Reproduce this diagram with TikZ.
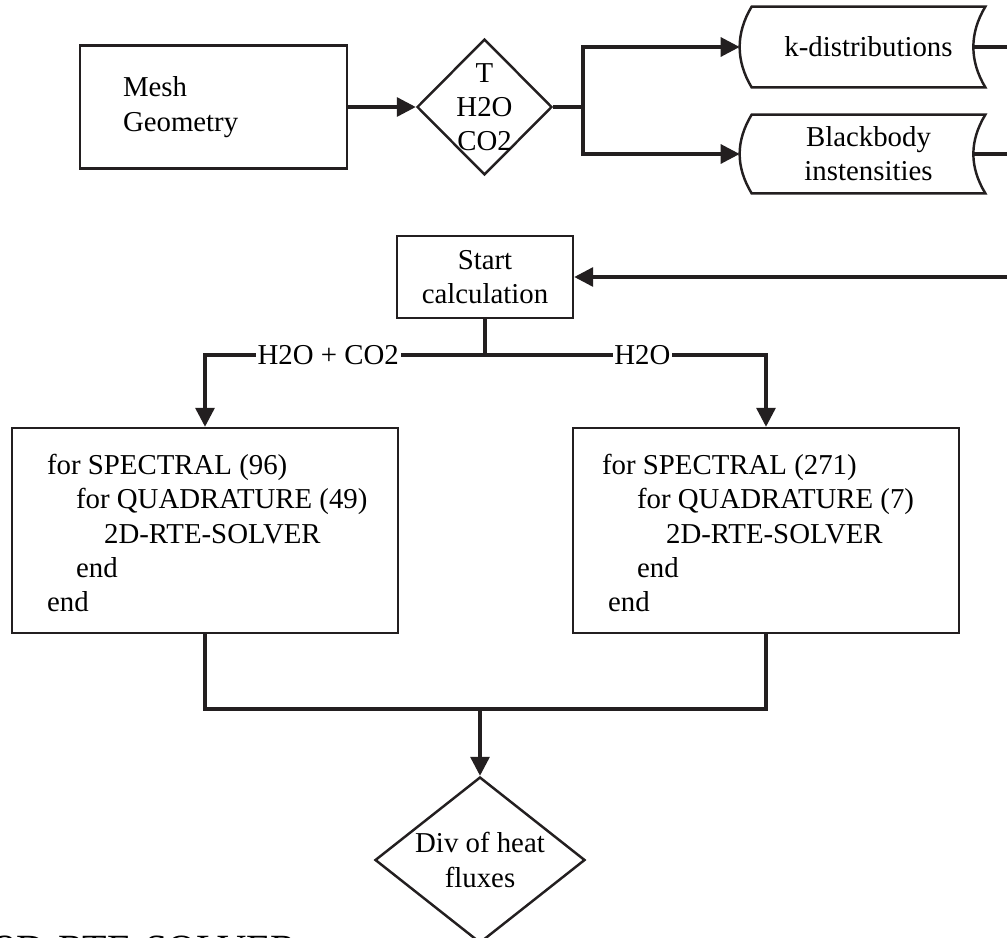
\documentclass[tikz,border=0pt]{standalone}
\usepackage{fontspec}
\setmainfont{Liberation Serif}
\usetikzlibrary{arrows.meta,calc,shapes.geometric}
\definecolor{ink}{HTML}{231F20}
\newcommand{\storedshape}[1]{%
  \draw[boxline] (#1.north west) -- (#1.north east)
    .. controls ($(#1.north east)+(-0.32,-0.53)$) and ($(#1.south east)+(-0.32,0.53)$) .. (#1.south east)
    -- (#1.south west)
    .. controls ($(#1.south west)+(-0.32,0.53)$) and ($(#1.north west)+(-0.32,-0.53)$) .. (#1.north west) -- cycle;}

\begin{document}
\begin{tikzpicture}[
  font=\fontsize{16.4}{19.5}\selectfont,
  boxline/.style={draw=ink, line width=1.4pt},
  box/.style={boxline, rectangle, align=center},
  loop/.style={boxline, rectangle, minimum width=7.72cm, minimum height=4.1cm},
  code/.style={anchor=west, align=left, inner sep=0pt},
  dia/.style={boxline, diamond, inner sep=0pt},
  store/.style={rectangle, align=center, minimum width=4.66cm},
  wire/.style={draw=ink, line width=1.9pt},
  arr/.style={wire, -{Triangle[length=0.38cm, width=0.38cm]}},
  lbl/.style={fill=white, inner xsep=1pt, inner ysep=0pt}
]
  \useasboundingbox (0,0) rectangle (20.14,-18.76);

  \node[box, minimum width=5.34cm, minimum height=2.46cm, text width=3.62cm, inner xsep=0.86cm, align=left] (mesh) at (4.27,-2.14) {Mesh\\Geometry};
  \node[dia, minimum width=2.7cm, minimum height=2.72cm] (gas) at (9.69,-2.14) {};
  \node[align=center] (gastxt) at (gas) {T\\H2O\\CO2};
  \node[store, minimum height=1.6cm] (kdist) at (17.37,-0.94) {k-distributions};
  \node[store, minimum height=1.56cm] (bbody) at (17.37,-3.08) {Blackbody\\instensities};
  \storedshape{kdist}
  \storedshape{bbody}
  \node[box, minimum width=3.52cm, minimum height=1.64cm] (start) at (9.7,-5.54) {Start\\calculation};
  \node[loop] (loopA) at (4.1,-10.61) {};
  \node[code] (loopAtxt) at ($(loopA.west)+(0.72,-0.05)$)
    {for SPECTRAL (96)\\\hspace*{0.58cm}for QUADRATURE (49)\\\hspace*{1.14cm}2D-RTE-SOLVER\\\hspace*{0.58cm}end\\end};
  \node[loop] (loopB) at (15.32,-10.61) {};
  \node[code] (loopBtxt) at ($(loopB.west)+(0.6,-0.05)$)
    {for SPECTRAL (271)\\\hspace*{0.7cm}for QUADRATURE (7)\\\hspace*{1.28cm}2D-RTE-SOLVER\\\hspace*{0.7cm}end\\\hspace*{0.12cm}end};
  \node[dia, minimum width=4.2cm, minimum height=3.32cm] (div) at (9.6,-17.2) {};
  \node[align=center] (divtxt) at (div) {Div of heat\\fluxes};
  \node[anchor=base west, inner sep=0pt, font=\fontsize{22.8}{27}\selectfont] (caption) at (-0.08,-19.24) {2D-RTE-SOLVER};

  \coordinate (split) at (11.66,-2.14);
  \coordinate (kdistin) at ($(kdist.west)+(-0.24,0)$);
  \coordinate (kdistout) at ($(kdist.east)+(-0.24,0)$);
  \coordinate (bbodyin) at ($(bbody.west)+(-0.24,0)$);
  \coordinate (bbodyout) at ($(bbody.east)+(-0.24,0)$);
  \coordinate (ret) at (20.4,-5.54);
  \coordinate (fork) at (9.7,-7.1);
  \coordinate (merge) at (9.6,-14.18);

  \draw[arr] (mesh.east) -- (gas.west);
  \draw[wire] (gas.east) -- (split);
  \draw[arr] (split) |- (kdistin);
  \draw[arr] (split) |- (bbodyin);
  \draw[wire] (kdistout) -| (ret);
  \draw[wire] (bbodyout) -- (bbodyout -| ret);
  \draw[arr] (ret) -- (start);
  \draw[wire] (start) -- (fork);
  \draw[arr] (fork) -| node[lbl, pos=0.28] {H2O + CO2} (loopA);
  \draw[arr] (fork) -| node[lbl, pos=0.28] {H2O} (loopB);
  \draw[wire] (loopA) |- (merge);
  \draw[wire] (loopB) |- (merge);
  \draw[arr] (merge) -- (div);
\end{tikzpicture}
\end{document}
